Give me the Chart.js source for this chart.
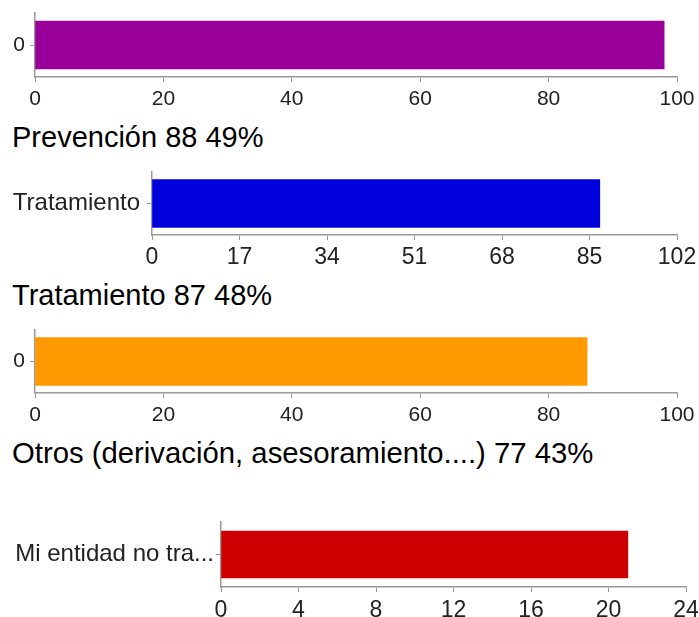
<!DOCTYPE html>
<html>
<head>
<meta charset="utf-8">
<script src="https://cdn.jsdelivr.net/npm/chart.js@4.4.1/dist/chart.umd.min.js"></script>
<style>
  body { margin: 0; background: #fff; width: 699px; height: 617px; overflow: hidden; position: relative;
         font-family: 'Liberation Sans', Arial, sans-serif; }
  canvas { position: absolute; left: 0; }
  .caption { position: absolute; left: 12px; font-size: 29px; line-height: 29px; color: #000; white-space: nowrap; }
</style>
</head>
<body>
<canvas id="c0" width="699" height="115" style="top:0px"></canvas>
<div class="caption" id="t0" style="top:123px"></div>
<canvas id="c1" width="699" height="115" style="top:160px"></canvas>
<div class="caption" id="t1" style="top:281px"></div>
<canvas id="c2" width="699" height="115" style="top:317px"></canvas>
<div class="caption" id="t2" style="top:438px;font-size:29.3px"></div>
<canvas id="c3" width="699" height="108" style="top:509px"></canvas>
<script>
// data, one entry per small chart
var categoryLabels = ['0', 'Tratamiento', '0', 'Mi entidad no tra...'];
var barValues = [98, 87, 86, 21];
var axisMax = [100, 102, 100, 24];
var axisStep = [20, 17, 20, 4];
var captions = ['Prevención 88 49%', 'Tratamiento 87 48%', 'Otros (derivación, asesoramiento....) 77 43%'];

// looks
var barColors = ['#990099', '#0000dd', '#ff9900', '#cc0000'];
var xFontSizes = [21, 23, 21, 23];
var yFontSizes = [21, 24, 21, 24];
var xLabelGap = [5, 4, 5, 5];
var yLabelGap = [5, 7, 5, 2];
var panels = [
    { top: 0,   height: 115, plotTop: 13,  plotBottom: 77,  left: 35,  right: 677, bar: 48 },
    { top: 160, height: 115, plotTop: 172, plotBottom: 235, left: 152, right: 677, bar: 48 },
    { top: 317, height: 115, plotTop: 330, plotBottom: 393, left: 35,  right: 677, bar: 48 },
    { top: 509, height: 108, plotTop: 522, plotBottom: 587, left: 221, right: 686, bar: 47 }
];
var fontFamily = "'Liberation Sans', Arial, sans-serif";

captions.forEach(function (txt, i) {
    document.getElementById('t' + i).textContent = txt;
});

panels.forEach(function (p, i) {
    var ctx = document.getElementById('c' + i).getContext('2d');
    new Chart(ctx, {
        type: 'bar',
        data: {
            labels: [categoryLabels[i]],
            datasets: [{
                data: [barValues[i]],
                backgroundColor: barColors[i],
                barThickness: p.bar
            }]
        },
        options: {
            indexAxis: 'y',
            responsive: false,
            animation: false,
            layout: { padding: { top: p.plotTop - p.top, right: 699 - p.right, left: 0, bottom: 0 } },
            plugins: { legend: { display: false }, tooltip: { enabled: false } },
            scales: {
                x: {
                    min: 0,
                    max: axisMax[i],
                    ticks: { stepSize: axisStep[i], color: '#222',
                             font: { size: xFontSizes[i], family: fontFamily }, padding: xLabelGap[i] },
                    grid: { drawOnChartArea: false, tickLength: 5, color: '#999' },
                    border: { color: '#999', width: 1.5 },
                    afterFit: function (s) {
                        s.height = p.height - (p.plotBottom - p.top);
                        s.paddingLeft = 0;
                        s.paddingRight = 0;
                    }
                },
                y: {
                    ticks: { color: '#222', font: { size: yFontSizes[i], family: fontFamily }, padding: yLabelGap[i] },
                    grid: { drawOnChartArea: false, offset: false, tickLength: 5, color: '#999' },
                    border: { color: '#999', width: 1.5 },
                    afterFit: function (s) {
                        s.width = p.left;
                        s.paddingTop = 0;
                        s.paddingBottom = 0;
                    }
                }
            }
        }
    });
});
</script>
</body>
</html>
